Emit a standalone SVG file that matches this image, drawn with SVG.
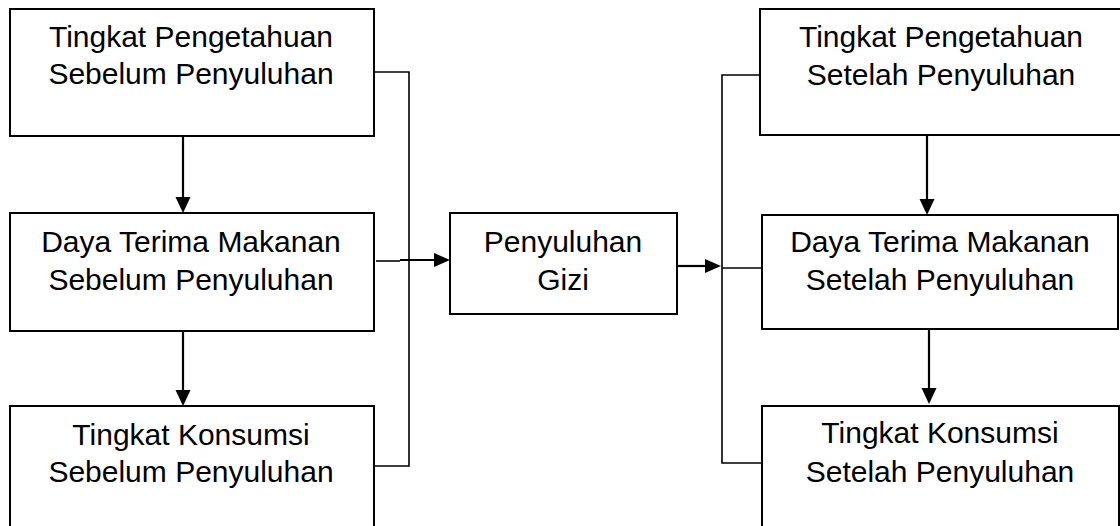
<svg xmlns="http://www.w3.org/2000/svg" width="1120" height="526" viewBox="0 0 1120 526">
<style>
.box{fill:#fff;stroke:#000;stroke-width:2}
.t{font-family:"Liberation Sans",Arial,sans-serif;font-size:30px;fill:#000;text-anchor:middle}
.ln{fill:none;stroke:#000;stroke-width:1.6}
.ar{fill:none;stroke:#000;stroke-width:2.2}
.hd{fill:#000;stroke:none}
</style>
<rect width="1120" height="526" fill="#fff"/>
<g id="connectors">
<path class="ln" d="M374,72 H409 V466 H374"/>
<path class="ln" d="M376,261 H400"/>
<path class="ar" d="M400,260 H436"/>
<polygon class="hd" points="450,260 434,253 434,267"/>
<path class="ar" d="M677,266 H707"/>
<polygon class="hd" points="721,266 705,259 705,273"/>
<path class="ln" d="M760,75 H722 V463 H762"/>
<path class="ln" d="M722,268 H762"/>
<path class="ar" d="M183,136 V199"/>
<polygon class="hd" points="183,213 175.5,197 190.5,197"/>
<path class="ar" d="M183,331 V392"/>
<polygon class="hd" points="183,406 175.5,390 190.5,390"/>
<path class="ar" d="M927,135 V201"/>
<polygon class="hd" points="927,215 919.5,199 934.5,199"/>
<path class="ar" d="M929,329 V390"/>
<polygon class="hd" points="929,404 921.5,388 936.5,388"/>
</g>
<g id="n1">
<rect class="box" x="10" y="9" width="364" height="127"/>
<text class="t" x="191" y="47">Tingkat Pengetahuan</text>
<text class="t" x="191" y="84">Sebelum Penyuluhan</text>
</g>
<g id="n2">
<rect class="box" x="10" y="213" width="364" height="118"/>
<text class="t" x="191" y="252">Daya Terima Makanan</text>
<text class="t" x="191" y="290">Sebelum Penyuluhan</text>
</g>
<g id="n3">
<rect class="box" x="10" y="406" width="364" height="130"/>
<text class="t" x="191" y="445">Tingkat Konsumsi</text>
<text class="t" x="191" y="482">Sebelum Penyuluhan</text>
</g>
<g id="n4">
<rect class="box" x="450" y="213" width="227" height="101"/>
<text class="t" x="563" y="252">Penyuluhan</text>
<text class="t" x="563" y="290">Gizi</text>
</g>
<g id="n5">
<rect class="box" x="760" y="9" width="364" height="126"/>
<text class="t" x="941" y="47">Tingkat Pengetahuan</text>
<text class="t" x="941" y="85">Setelah Penyuluhan</text>
</g>
<g id="n6">
<rect class="box" x="762" y="215" width="356" height="114"/>
<text class="t" x="940" y="252">Daya Terima Makanan</text>
<text class="t" x="940" y="290">Setelah Penyuluhan</text>
</g>
<g id="n7">
<rect class="box" x="762" y="406" width="357" height="130"/>
<text class="t" x="940" y="443">Tingkat Konsumsi</text>
<text class="t" x="940" y="482">Setelah Penyuluhan</text>
</g>
</svg>
